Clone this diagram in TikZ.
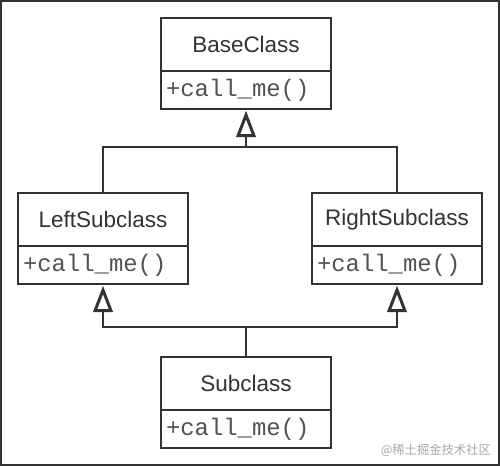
\documentclass[tikz,border=0pt]{standalone}
\usepackage{fontspec}
\setmainfont{Liberation Sans}
\setmonofont{Liberation Mono}
\newfontfamily\cjk{Noto Sans CJK SC}
\usetikzlibrary{arrows.meta,positioning}
\definecolor{ink}{HTML}{333333}

\begin{document}
\begin{tikzpicture}[x=0.02cm,y=-0.02cm,
clsname/.style={draw=ink,line width=1pt,outer sep=0pt,fill=white,minimum width=3.4cm,minimum height=1.06cm,anchor=north,text=ink,font=\fontsize{12.8}{14}\selectfont},
meth/.style={draw=ink,line width=1pt,outer sep=0pt,text width=3.2cm,inner xsep=0.1cm,minimum height=0.76cm,align=left,text=ink!85,font=\ttfamily\fontsize{13.6}{15}\selectfont},
link/.style={ink,line width=0.8pt},
inh/.style={link,-{Triangle[open,length=15pt,width=11pt,line width=1.7pt]},shorten >=1pt}]
\useasboundingbox (0,0) rectangle (500,466);
\draw[ink,line width=1.2pt] (1,1) rectangle (499,465);
\node[clsname] (base) at (246,18) {BaseClass};
\node[meth,below=0pt of base] (basem) {+call\_me()};
\node[clsname] (left) at (103,193) {LeftSubclass};
\node[meth,below=0pt of left] (leftm) {+call\_me()};
\node[clsname] (right) at (397,193) {RightSubclass};
\node[meth,below=0pt of right] (rightm) {+call\_me()};
\node[clsname] (sub) at (246,357) {Subclass};
\node[meth,below=0pt of sub] (subm) {+call\_me()};
\coordinate (top) at (246,147);
\coordinate (bot) at (246,327);
\draw[inh] (left.north) |- (top) -- (basem.south);
\draw[link] (right.north) |- (top);
\draw[inh] (sub.north) -- (bot) -| (leftm.south);
\draw[inh] (bot) -| (rightm.south);
\node[anchor=south east,text=black!35,font=\cjk\fontsize{7}{8}\selectfont] (wm) at (497,463) {@稀土掘金技术社区};
\end{tikzpicture}
\end{document}
